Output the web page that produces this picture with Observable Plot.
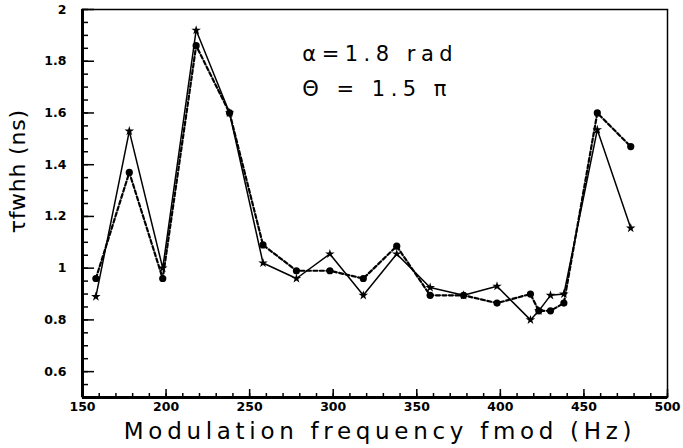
<!DOCTYPE html>
<html>
<head>
<meta charset="utf-8">
<script src="https://cdn.jsdelivr.net/npm/d3@7"></script>
<script src="https://cdn.jsdelivr.net/npm/@observablehq/plot@0.6"></script>
<style>
  html, body { margin: 0; padding: 0; background: #fff; }
  svg text.ticklab { font-weight: bold !important; font-family: "DejaVu Sans", sans-serif; font-size: 12.5px; }
</style>
</head>
<body>
<div id="chart"></div>
<script>
// Data
const freqA = [158, 178, 198, 218, 238, 258, 278, 298, 318, 338, 358, 378, 398, 418, 423, 430, 438, 458, 478];
const tauA  = [0.89, 1.53, 1.00, 1.92, 1.60, 1.02, 0.96, 1.055, 0.895, 1.055, 0.925, 0.895, 0.93, 0.80, 0.835, 0.895, 0.90, 1.535, 1.155];
const freqB = [158, 178, 198, 218, 238, 258, 278, 298, 318, 338, 358, 378, 398, 418, 423, 430, 438, 458, 478];
const tauB  = [0.96, 1.37, 0.96, 1.86, 1.60, 1.09, 0.99, 0.99, 0.96, 1.085, 0.895, 0.895, 0.865, 0.90, 0.835, 0.835, 0.865, 1.60, 1.47];

const xMajor = [150, 200, 250, 300, 350, 400, 450, 500];
const xMinor = d3.range(150, 501, 10);
const yMajor = [0.6, 0.8, 1.0, 1.2, 1.4, 1.6, 1.8, 2.0];
const yMinor = d3.range(0, 31).map(i => 0.5 + i * 0.05);

const annot1 = "α=1.8 rad";
const annot2 = "Θ = 1.5 π";
const xLabel = "Modulation frequency fmod (Hz)";
const yLabel = "τfwhh (ns)";

const A = freqA.map((f, i) => ({f, t: tauA[i]}));
const B = freqB.map((f, i) => ({f, t: tauB[i]}));

const fmt = d => String(+d.toFixed(1));
const tickFont = {fontFamily: "DejaVu Sans", fontWeight: "bold", fontSize: 12};

const chart = Plot.plot({
  width: 683,
  height: 448,
  marginLeft: 82,
  marginRight: 16,
  marginTop: 9,
  marginBottom: 51,
  style: {background: "#fff", color: "#000", fontFamily: "DejaVu Sans"},
  x: {domain: [150, 500]},
  y: {domain: [0.5, 2]},
  marks: [
    // inward minor / major ticks
    Plot.axisX({ticks: xMinor, tickSize: -4, tickFormat: () => "", label: null, strokeWidth: 1.5}),
    Plot.axisX({ticks: xMajor, tickSize: -8, tickFormat: () => "", label: null, strokeWidth: 1.5}),
    Plot.axisX({ticks: xMajor, tickSize: 0, tickPadding: 5, tickFormat: d => String(d), label: null, ...tickFont}),
    Plot.axisY({ticks: yMinor, tickSize: -6, tickFormat: () => "", label: null, strokeWidth: 1.5}),
    Plot.axisY({ticks: yMajor, tickSize: -12, tickFormat: () => "", label: null, strokeWidth: 1.5}),
    Plot.axisY({ticks: yMajor, tickSize: 0, tickPadding: 16, tickFormat: fmt, label: null, ...tickFont}),
    // frame
    Plot.frame({stroke: "#000", strokeWidth: 1.5}),
    Plot.ruleX([150], {stroke: "#000", strokeWidth: 3}),
    Plot.ruleY([0.5], {stroke: "#000", strokeWidth: 3}),
    // series
    Plot.line(A, {x: "f", y: "t", stroke: "#000", strokeWidth: 1.5}),
    Plot.line(B, {x: "f", y: "t", stroke: "#000", strokeWidth: 2.2, strokeDasharray: "4,2.5"}),
    Plot.dot(A, {x: "f", y: "t", symbol: "star", r: 3, fill: "#000", stroke: "none"}),
    Plot.dot(B, {x: "f", y: "t", r: 3.6, fill: "#000", stroke: "none"}),
    // annotations
    Plot.text([annot1], {x: 281.5, y: 1.80, text: d => d, textAnchor: "start", lineAnchor: "bottom", fontSize: 21, fontFamily: "DejaVu Sans", fill: "#000"}),
    Plot.text([annot2], {x: 281.5, y: 1.665, text: d => d, textAnchor: "start", lineAnchor: "bottom", fontSize: 21, fontFamily: "DejaVu Sans", fill: "#000"}),
    // axis labels
    Plot.text([xLabel], {x: 328, frameAnchor: "bottom", dy: 34, text: d => d, textAnchor: "middle", lineAnchor: "middle", fontSize: 23, fontFamily: "DejaVu Sans", fill: "#000"}),
    Plot.text([yLabel], {y: 1.375, frameAnchor: "left", dx: -65, rotate: -90, text: d => d, textAnchor: "middle", lineAnchor: "middle", fontSize: 22, fontFamily: "DejaVu Sans", fill: "#000"})
  ]
});

// text styling Plot's text mark does not expose directly
const svg = d3.select(chart);
const tickTexts = new Set([...xMajor.map(String), ...yMajor.map(fmt)]);
svg.selectAll("text").each(function() {
  const s = d3.select(this);
  const t = this.textContent;
  if (t === xLabel) s.style("letter-spacing", "4.7px");
  else if (t === annot1 || t === annot2) s.style("letter-spacing", "5.5px");
  else if (t === yLabel) s.style("letter-spacing", "0.8px");
  else if (tickTexts.has(t)) s.classed("ticklab", true).attr("font-weight", "bold").style("font-weight", "bold");
});

document.getElementById("chart").appendChild(chart);
</script>
</body>
</html>
